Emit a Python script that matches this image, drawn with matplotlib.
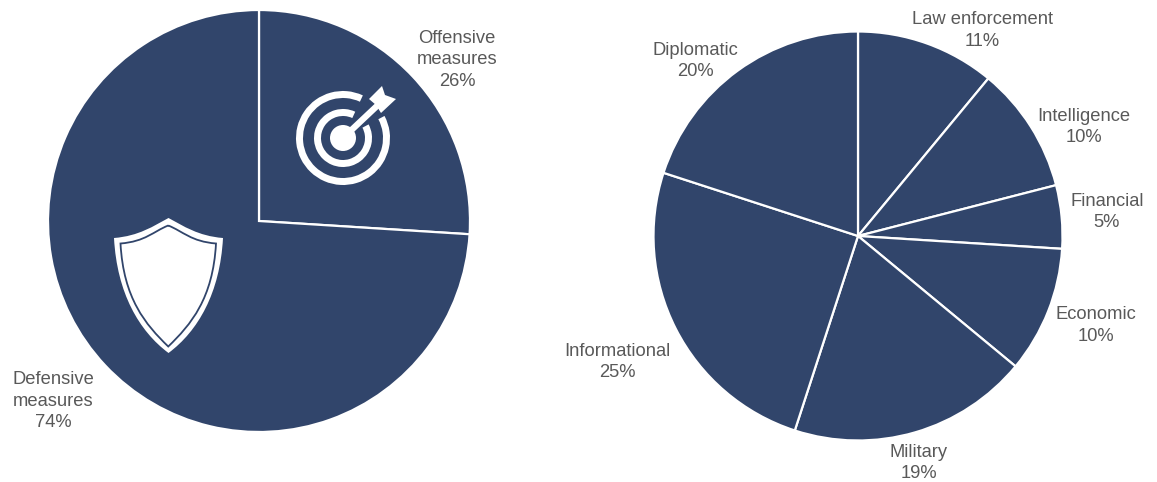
import matplotlib
matplotlib.use("Agg")
import matplotlib.pyplot as plt
from matplotlib.patches import PathPatch, Polygon, Wedge, Circle
from matplotlib.path import Path

W, H = 1157, 482
NAVY = "#31456b"
GREY = "#595959"

measure_labels = ["Offensive\nmeasures", "Defensive\nmeasures"]
measure_values = [26, 74]

tool_labels = ["Law enforcement", "Intelligence", "Financial", "Economic",
               "Military", "Informational", "Diplomatic"]
tool_values = [11, 10, 5, 10, 19, 25, 20]

plt.rcParams["font.family"] = ["Liberation Sans", "DejaVu Sans"]


def flip(pts):
    # pixel coordinates counted from the top edge -> axes coordinates
    return [(x, H - y) for x, y in pts]


def add_label(ax, x, y, name, value):
    ax.text(x, H - y, f"{name}\n{value}%", ha="center", va="center",
            fontsize=13.2, color=GREY, linespacing=1.38)


def shield_path(top, shoulder_y, left, right, bottom):
    cx = (left + right) / 2
    verts = [(cx, top),
             (cx - 15, shoulder_y - 12), (left + 25, shoulder_y - 2), (left, shoulder_y),
             (left + 3, shoulder_y + 55), (left + 25, bottom - 22), (cx, bottom),
             (right - 25, bottom - 22), (right - 3, shoulder_y + 55), (right, shoulder_y),
             (right - 25, shoulder_y - 2), (cx + 15, shoulder_y - 12), (cx, top)]
    codes = [Path.MOVETO] + [Path.CURVE4] * 12
    return Path(flip(verts), codes)


def draw_shield(ax):
    ax.add_patch(PathPatch(shield_path(218, 238, 114, 223, 353), fc="white", ec="none", zorder=5))
    ax.add_patch(PathPatch(shield_path(225.5, 243.5, 120.5, 216, 346.5), fc="white", ec=NAVY,
                           lw=1.3, zorder=6))


def draw_target(ax):
    cx, cy = 343, H - 138
    # both rings leave a gap where the arrow comes in
    ax.add_patch(Wedge((cx, cy), 47, 65, 388, width=7, fc="white", ec="none", zorder=5))
    ax.add_patch(Wedge((cx, cy), 29, 65, 388, width=7, fc="white", ec="none", zorder=5))
    ax.add_patch(Circle((cx, cy), 13, fc="white", ec="none", zorder=5))
    ax.plot([343, 378], [H - 138, H - 105], color="white", lw=4.5, zorder=7, solid_capstyle="butt")
    fletch = [(369, 99), (382, 86), (385, 95), (396, 99), (381, 113), (376, 105)]
    ax.add_patch(Polygon(flip(fletch), closed=True, fc="white", ec="none", zorder=7))


fig = plt.figure(figsize=(W / 100, H / 100), dpi=100, facecolor="white")
ax = fig.add_axes([0, 0, 1, 1])

wedge_style = {"edgecolor": "white", "linewidth": 1.6}
ax.pie(measure_values, center=(259, H - 221), radius=211, startangle=90, counterclock=False,
       colors=[NAVY], wedgeprops=wedge_style)
ax.pie(tool_values, center=(858, H - 236), radius=204.5, startangle=90, counterclock=False,
       colors=[NAVY], wedgeprops=wedge_style)

ax.set_xlim(0, W)
ax.set_ylim(0, H)
ax.set_aspect("equal")
ax.axis("off")

draw_shield(ax)
draw_target(ax)

add_label(ax, 457, 60, measure_labels[0], measure_values[0])
add_label(ax, 53, 401, measure_labels[1], measure_values[1])

tool_pos = [(982, 30.5), (1084, 127), (1107, 212), (1096, 325.5),
            (919, 463), (617, 362), (695, 61)]
for (x, y), name, value in zip(tool_pos, tool_labels, tool_values):
    add_label(ax, x, y, name, value)

fig.savefig("out.png", dpi=100, facecolor="white")
